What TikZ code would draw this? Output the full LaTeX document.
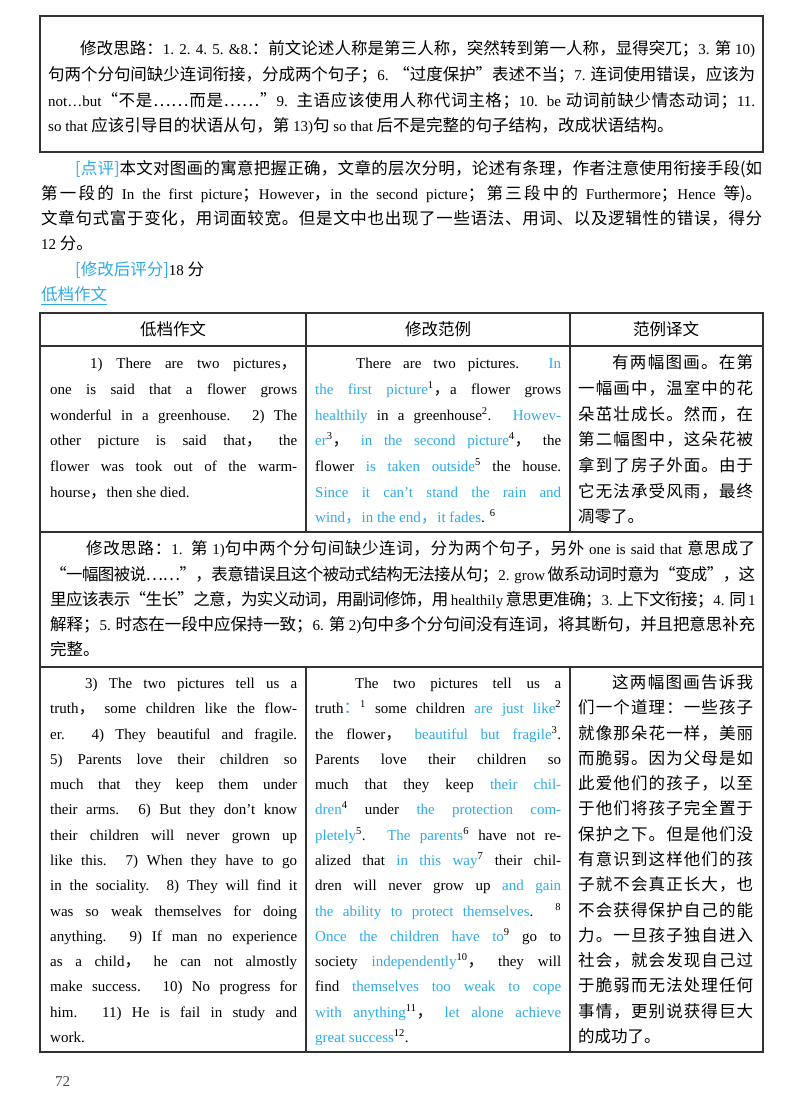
\documentclass[tikz,border=0pt]{standalone}
\usepackage{fontspec}
\setmainfont{Liberation Serif}
\newfontfamily\zhfont[Scale=1.1]{Noto Sans CJK SC}
\newcommand\en[1]{{\rmfamily #1}}
\newcommand\zh[1]{{\zhfont #1}}
\newcount\cc
\cc="4E00 \loop \XeTeXcharclass\cc=1 \advance\cc 1 \ifnum\cc<"A000 \repeat
\cc="3000 \loop \XeTeXcharclass\cc=1 \advance\cc 1 \ifnum\cc<"3040 \repeat
\cc="FF00 \loop \XeTeXcharclass\cc=1 \advance\cc 1 \ifnum\cc<"FFF0 \repeat
\XeTeXcharclass"201C=1 \XeTeXcharclass"201D=1 \XeTeXcharclass"2026=1
\XeTeXinterchartoks 1 1 = {\hskip 0pt plus 1pt minus 0.6pt}
\XeTeXinterchartokenstate=1
\definecolor{bl}{RGB}{45,170,230}
\definecolor{frame}{RGB}{50,50,50}
\newcommand\bl[1]{\textcolor{bl}{#1}}
\newcommand\supr[1]{\textsuperscript{#1}}
\newcommand\J[4]{\node[txt] at (#1,#2) {\makebox[#3pt][s]{#4}};}
\newcommand\T[3]{\node[txt] at (#1,#2) {#3};}
\newcommand\JZ[4]{\node[txt] at (#1,#2) {\makebox[#3pt][s]{\zhfont #4}};}
\newcommand\TZ[3]{\node[txt] at (#1,#2) {\zhfont #3};}
\tikzset{txt/.style={anchor=base west,inner sep=0pt,font=\fontsize{15}{18}\selectfont},
  frm/.style={draw=frame,line width=1.1pt}}
\begin{document}
\begin{tikzpicture}[x=1pt,y=-1pt]
\useasboundingbox (0,0) rectangle (800,1115);
% top box
\draw[frm] (40,16) rectangle (763,152);
\JZ{80}{55}{675}{修改思路：\en{1. 2. 4. 5. \&8.}：前文论述人称是第三人称，突然转到第一人称，显得突兀；\en{3.} 第 \en{10)}}
\JZ{48}{81}{707}{句两个分句间缺少连词衔接，分成两个句子；\en{6.} “过度保护”表述不当；\en{7.} 连词使用错误，应该为}
\JZ{48}{107}{707}{\en{not…but}“不是……而是……”\en{9.} 主语应该使用人称代词主格；\en{10. be} 动词前缺少情态动词；\en{11.}}
\TZ{48}{132}{\en{so that} 应该引导目的状语从句，第 \en{13)}句 \en{so that} 后不是完整的句子结构，改成状语结构。}
% comment paragraph
\JZ{75}{175}{687}{\bl{[点评]}本文对图画的寓意把握正确，文章的层次分明，论述有条理，作者注意使用衔接手段(如}
\JZ{41}{200}{721}{第一段的 \en{In the first picture}；\en{However}，\en{in the second picture}；第三段中的 \en{Furthermore}；\en{Hence} 等)。}
\JZ{41}{225}{721}{文章句式富于变化，用词面较宽。但是文中也出现了一些语法、用词、以及逻辑性的错误，得分}
\TZ{41}{250}{\en{12} 分。}
\TZ{75}{275}{\bl{[修改后评分]}\en{18} 分}
\TZ{41}{300}{\bl{低档作文}}
\draw[bl,line width=1pt] (41,304) -- (107,304);
% table
\draw[frm] (40,313) rectangle (763,1052);
\draw[frm] (40,346) -- (763,346);
\draw[frm] (40,532) -- (763,532);
\draw[frm] (40,667) -- (763,667);
\draw[frm] (306,313) -- (306,532);
\draw[frm] (570,313) -- (570,532);
\draw[frm] (306,667) -- (306,1052);
\draw[frm] (570,667) -- (570,1052);
\node[font=\fontsize{15}{18}\selectfont\zhfont,anchor=base] at (173,335) {低档作文};
\node[font=\fontsize{15}{18}\selectfont\zhfont,anchor=base] at (438,335) {修改范例};
\node[font=\fontsize{15}{18}\selectfont\zhfont,anchor=base] at (666,335) {范例译文};
% row 1 left
\J{90}{368}{207}{1) There are two pictures\zh{，}}
\J{50}{394}{247}{one is said that a flower grows}
\J{50}{420}{247}{wonderful in a greenhouse. 2) The}
\J{50}{445}{247}{other picture is said that\zh{，} the}
\J{50}{471}{247}{flower was took out of the warm-}
\T{50}{497}{hourse\zh{，}then she died.}
% row 1 middle
\J{356}{368}{205}{There are two pictures. \bl{In}}
\J{315}{394}{246}{\bl{the first picture}\supr{1}\zh{，}a flower grows}
\J{315}{420}{246}{\bl{healthily} in a greenhouse\supr{2}. \bl{Howev-}}
\J{315}{445}{246}{\bl{er}\supr{3}\zh{，} \bl{in the second picture}\supr{4}\zh{，} the}
\J{315}{471}{246}{flower \bl{is taken outside}\supr{5} the house.}
\J{315}{497}{246}{\bl{Since it can't stand the rain and}}
\T{315}{522}{\bl{wind\zh{，}in the end\zh{，}it fades}. \supr{6}}
% row 1 right
\JZ{612}{368}{141}{有两幅图画。在第}
\JZ{578}{394}{175}{一幅画中，温室中的花}
\JZ{578}{420}{175}{朵茁壮成长。然而，在}
\JZ{578}{445}{175}{第二幅图中，这朵花被}
\JZ{578}{471}{175}{拿到了房子外面。由于}
\JZ{578}{497}{175}{它无法承受风雨，最终}
\TZ{578}{522}{凋零了。}
% note row
\JZ{86}{554}{669}{修改思路：\en{1.} 第 \en{1)}句中两个分句间缺少连词，分为两个句子，另外 \en{one is said that} 意思成了}
\JZ{50}{580}{705}{“一幅图被说……”，表意错误且这个被动式结构无法接从句；\en{2. grow} 做系动词时意为“变成”，这}
\JZ{50}{605}{705}{里应该表示“生长”之意，为实义动词，用副词修饰，用 \en{healthily} 意思更准确；\en{3.} 上下文衔接；\en{4.} 同 \en{1}}
\JZ{50}{630}{705}{解释；\en{5.} 时态在一段中应保持一致；\en{6.} 第 \en{2)}句中多个分句间没有连词，将其断句，并且把意思补充}
\TZ{50}{655}{完整。}
% row 2 left
\J{85}{688}{212}{3) The two pictures tell us a}
\J{50}{713}{247}{truth\zh{，} some children like the flow-}
\J{50}{739}{247}{er. 4) They beautiful and fragile.}
\J{50}{764}{247}{5) Parents love their children so}
\J{50}{789}{247}{much that they keep them under}
\J{50}{814}{247}{their arms. 6) But they don't know}
\J{50}{840}{247}{their children will never grown up}
\J{50}{865}{247}{like this. 7) When they have to go}
\J{50}{890}{247}{in the sociality. 8) They will find it}
\J{50}{916}{247}{was so weak themselves for doing}
\J{50}{941}{247}{anything. 9) If man no experience}
\J{50}{966}{247}{as a child\zh{，} he can not almostly}
\J{50}{991}{247}{make success. 10) No progress for}
\J{50}{1017}{247}{him. 11) He is fail in study and}
\T{50}{1042}{work.}
% row 2 middle
\J{355}{688}{206}{The two pictures tell us a}
\J{315}{713}{246}{truth\bl{\zh{：}}\supr{1} some children \bl{are just like}\supr{2}}
\J{315}{739}{246}{the flower\zh{，} \bl{beautiful but fragile}\supr{3}.}
\J{315}{764}{246}{Parents love their children so}
\J{315}{789}{246}{much that they keep \bl{their chil-}}
\J{315}{814}{246}{\bl{dren}\supr{4} under \bl{the protection com-}}
\J{315}{840}{246}{\bl{pletely}\supr{5}. \bl{The parents}\supr{6} have not re-}
\J{315}{865}{246}{alized that \bl{in this way}\supr{7} their chil-}
\J{315}{890}{246}{dren will never grow up \bl{and gain}}
\J{315}{916}{246}{\bl{the ability to protect themselves}. \supr{8}}
\J{315}{941}{246}{\bl{Once the children have to}\supr{9} go to}
\J{315}{966}{246}{society \bl{independently}\supr{10}\zh{，} they will}
\J{315}{991}{246}{find \bl{themselves too weak to cope}}
\J{315}{1017}{246}{\bl{with anything}\supr{11}\zh{，} \bl{let alone achieve}}
\T{315}{1042}{\bl{great success}\supr{12}.}
% row 2 right
\JZ{612}{688}{141}{这两幅图画告诉我}
\JZ{578}{713}{175}{们一个道理：一些孩子}
\JZ{578}{739}{175}{就像那朵花一样，美丽}
\JZ{578}{764}{175}{而脆弱。因为父母是如}
\JZ{578}{789}{175}{此爱他们的孩子，以至}
\JZ{578}{814}{175}{于他们将孩子完全置于}
\JZ{578}{840}{175}{保护之下。但是他们没}
\JZ{578}{865}{175}{有意识到这样他们的孩}
\JZ{578}{890}{175}{子就不会真正长大，也}
\JZ{578}{916}{175}{不会获得保护自己的能}
\JZ{578}{941}{175}{力。一旦孩子独自进入}
\JZ{578}{966}{175}{社会，就会发现自己过}
\JZ{578}{991}{175}{于脆弱而无法处理任何}
\JZ{578}{1017}{175}{事情，更别说获得巨大}
\TZ{578}{1042}{的成功了。}
\node[txt,text=black!70] at (55,1086) {72};
\end{tikzpicture}
\end{document}
